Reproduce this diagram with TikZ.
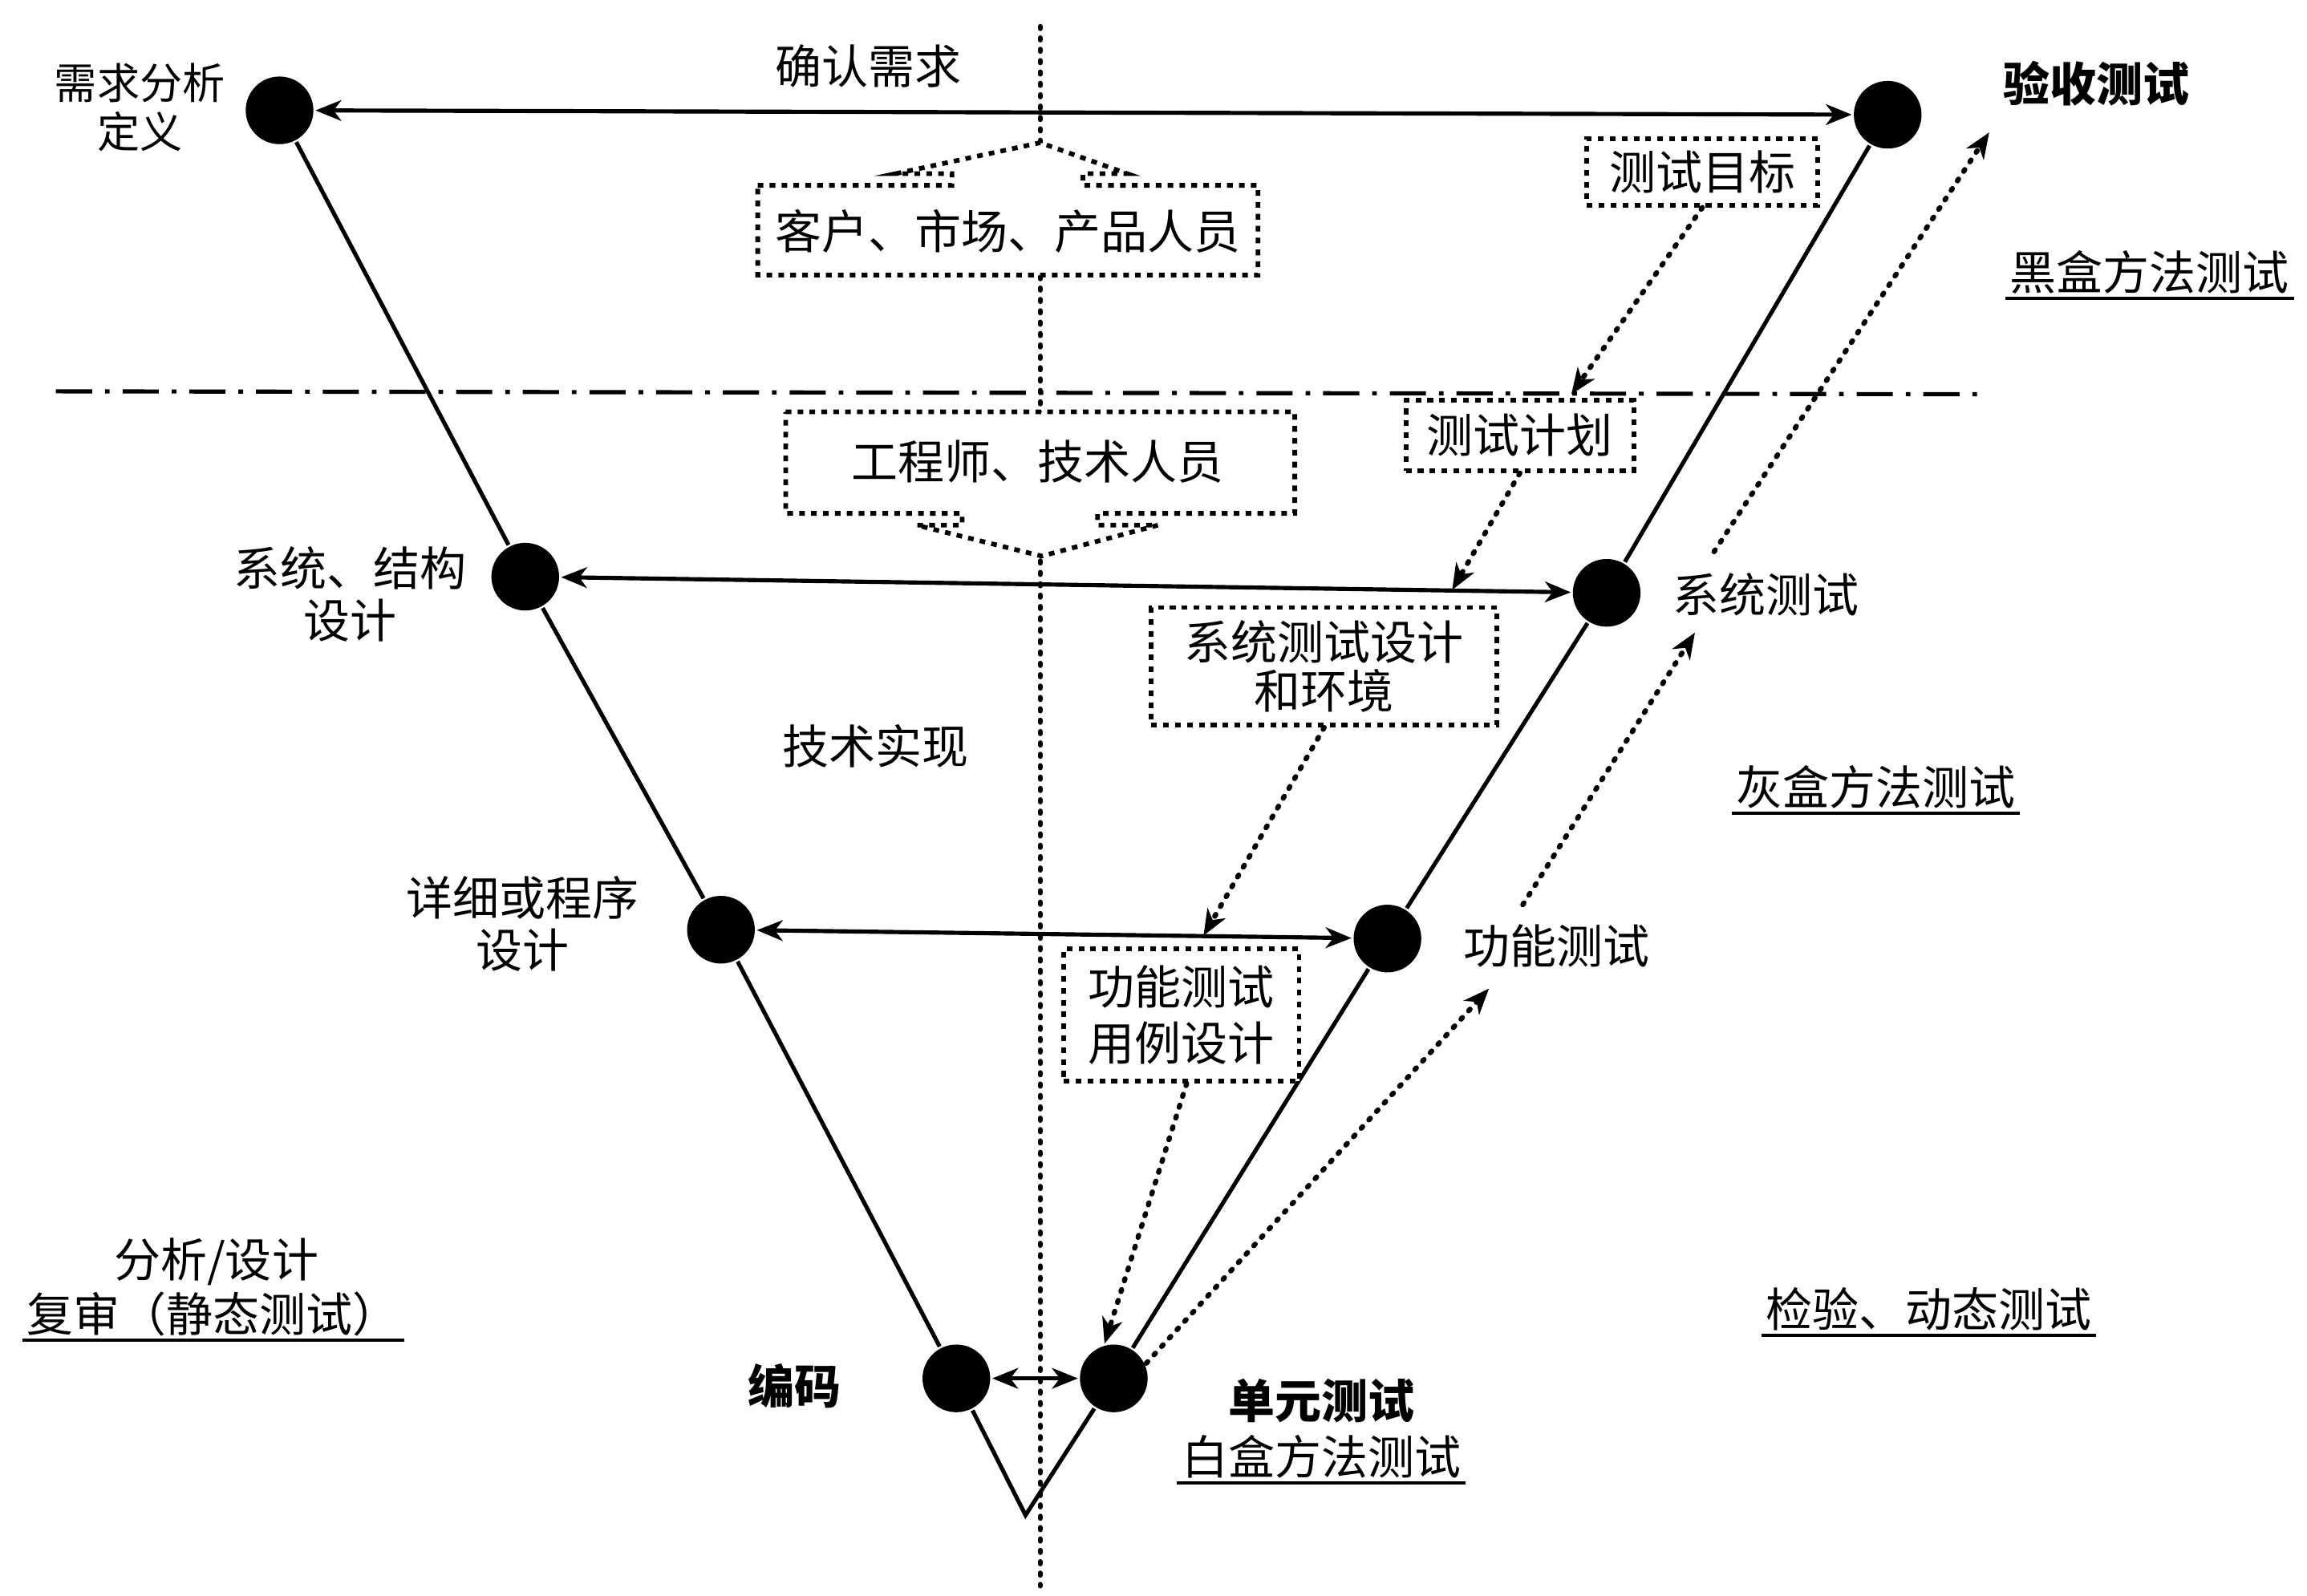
\documentclass[tikz,border=0pt]{standalone}
\usepackage{fontspec}
\setmainfont{Noto Sans CJK SC}
\usetikzlibrary{arrows.meta}
\tikzset{
stage/.style={
  circle,
  fill=black,
  inner sep=0pt,
  minimum size=0.92cm
  },
lbl/.style={
  font=\fontsize{18}{20}\selectfont,
  align=center,
  inner sep=1pt
  },
dotframe/.style={
  draw,
  fill=white,
  line width=1.8pt,
  dash pattern=on 2.2pt off 2.4pt
  },
dotbox/.style={
  dotframe,
  font=\fontsize{18}{19}\selectfont,
  align=center,
  inner sep=0pt
  },
dotline/.style={
  line width=2pt,
  dash pattern=on 0.8pt off 3.6pt,
  line cap=round
  },
tip/.style={-{Stealth[length=10pt,width=8pt,inset=3pt]}},
both/.style={{Stealth[length=10pt,width=8pt,inset=3pt]}-{Stealth[length=10pt,width=8pt,inset=3pt]}}
}

\begin{document}
\begin{tikzpicture}[x=0.02cm,y=-0.02cm,line width=1.6pt]
\useasboundingbox (0,0) rectangle (1568,1084.5);

% middle axis and the black box border
\draw[dotline] (707,18) -- (707,1078);
\draw[dash pattern=on 14pt off 5pt on 1.8pt off 5pt] (38,266) -- (1352,268);

% stages
\node[stage] (req) at (190,75) {};
\node[stage] (sys) at (357,392) {};
\node[stage] (det) at (490,632) {};
\node[stage] (code) at (650,937) {};
\node[stage] (unit) at (757,937) {};
\node[stage] (func) at (943,638) {};
\node[stage] (systest) at (1092,403) {};
\node[stage] (acc) at (1283,78) {};
\coordinate (vtx) at (697,1030);

\draw (req) -- (sys) -- (det) -- (code) -- (vtx) -- (unit) -- (func) -- (systest) -- (acc);

\draw[both] (req) -- (acc);
\draw[both] (sys) -- (systest);
\draw[both] (det) -- (func);
\draw[both] (code) -- (unit);

% people
\draw[dotframe] (515,126) -- (647,126) -- (647,118) -- (609,118) -- (707,97)
  -- (766,118) -- (736,118) -- (736,126) -- (855,126) -- (855,187) -- (515,187) -- cycle;
\node[lbl] (cust) at (685,157) {客户、市场、产品人员};

\draw[dotframe] (534,280) -- (880,280) -- (880,349) -- (746,349) -- (746,357) -- (787,357)
  -- (708,378) -- (623,357) -- (654,357) -- (654,349) -- (534,349) -- cycle;
\node[lbl] (eng) at (705,314) {工程师、技术人员};

% test design boxes
\node[dotbox,minimum width=3.14cm,minimum height=0.9cm] (goal) at (1157,117) {测试目标};
\node[dotbox,minimum width=3.1cm,minimum height=0.96cm] (plan) at (1033,296) {测试计划};
\node[dotbox,minimum width=4.7cm,minimum height=1.6cm] (sysdesign) at (900,453) {系统测试设计\\和环境};
\node[dotbox,minimum width=3.2cm,minimum height=1.8cm,font=\fontsize{18}{21.5}\selectfont] (funcdesign) at (803,690) {功能测试\\用例设计};

\begin{scope}
\coordinate(start) at(goal.south);
\coordinate(end) at(1068,268);
\draw[dotline,tip] (start) -- (end);
\end{scope}

\begin{scope}
\coordinate(start) at(plan.south);
\coordinate(end) at(987,401);
\draw[dotline,tip] (start) -- (end);
\end{scope}

\begin{scope}
\coordinate(start) at(sysdesign.south);
\coordinate(end) at(818,636);
\draw[dotline,tip] (start) -- (end);
\end{scope}

\begin{scope}
\coordinate(start) at([xshift=2pt]funcdesign.south);
\coordinate(end) at(unit.105);
\draw[dotline,tip] (start) -- (end);
\end{scope}

% going up again

\begin{scope}
\coordinate(start) at(unit.25);
\coordinate(end) at(1012,672);
\draw[dotline,tip] (start) -- (end);
\end{scope}

\begin{scope}
\coordinate(start) at(1035,615);
\coordinate(end) at(1152,430);
\draw[dotline,tip] (start) -- (end);
\end{scope}

\begin{scope}
\coordinate(start) at(1165,375);
\coordinate(end) at(1352,90);
\draw[dotline,tip] (start) -- (end);
\end{scope}

% labels
\node[lbl] (confirm) at (590,45) {确认需求};
\node[lbl,font=\fontsize{16.5}{18.7}\selectfont] (reqlbl) at (95,73) {需求分析\\定义};
\node[lbl,font=\fontsize{18}{20}\selectfont\bfseries] (acclbl) at (1425,57) {验收测试};
\node[lbl] (sysl) at (238,404) {系统、结构\\设计};
\node[lbl] (systestlbl) at (1200,404) {系统测试};
\node[lbl] (tech) at (595,507) {技术实现};
\node[lbl] (detlbl) at (355,628) {详细或程序\\设计};
\node[lbl] (funclbl) at (1058,643) {功能测试};
\node[lbl,font=\fontsize{18}{20}\selectfont\bfseries] (codelbl) at (540,942) {编码};
\node[lbl,font=\fontsize{18}{20}\selectfont\bfseries] (unitlbl) at (898,952) {单元测试};
\node[lbl] (analysis) at (147,858) {分析/设计};

% methods, underlined
\node[lbl] (black) at (1461,185) {黑盒方法测试};
\node[lbl] (gray) at (1275,535) {灰盒方法测试};
\node[lbl] (dynamic) at (1311,890) {检验、动态测试};
\node[lbl] (static) at (145,893) {复审（静态测试）};
\node[lbl] (white) at (898,990) {白盒方法测试};

\foreach \n in {black,gray,dynamic,static,white}
  \draw[line width=1.2pt] (\n.south west) -- (\n.south east);

\end{tikzpicture}
\end{document}
